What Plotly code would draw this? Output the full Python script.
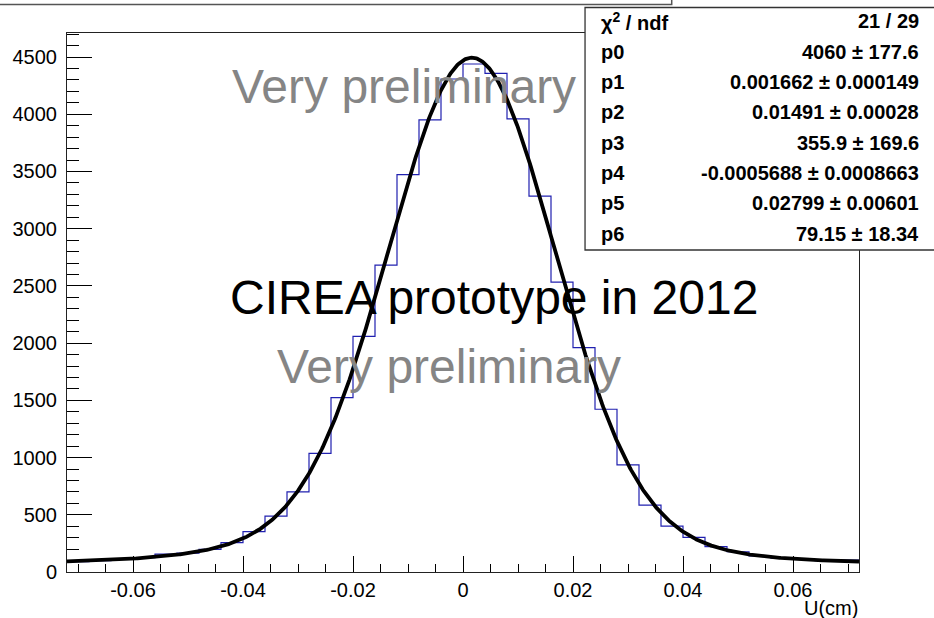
import numpy as np
import plotly.graph_objects as go

# ---- histogram of U (cm): 36 bins from -0.072 to 0.072 ----
x_min, x_max, n_bins = -0.072, 0.072, 36
counts = [
    90, 100, 110, 125, 157, 165, 198, 256, 352, 489, 701, 1036,
    1524, 2059, 2682, 3473, 3950, 4308, 4439, 4357, 3959, 3284, 2533, 1961,
    1422, 936, 585, 401, 303, 221, 177, 140, 122, 110, 100, 105,
]

# ---- fit: gaus(p0,p1,p2) + gaus(p3,p4,p5) + p6 ----
par_names = ["p0", "p1", "p2", "p3", "p4", "p5", "p6"]
par_values = [4060, 0.001662, 0.01491, 355.9, -0.0005688, 0.02799, 79.15]
par_errors = [177.6, 0.000149, 0.00028, 169.6, 0.0008663, 0.00601, 18.34]
chi2, ndf = 21, 29

# ---- axis ticks ----
y_ticks = [0, 500, 1000, 1500, 2000, 2500, 3000, 3500, 4000, 4500]
x_tickvals = [-0.06, -0.04, -0.02, 0, 0.02, 0.04, 0.06]
x_ticktext = ["-0.06", "-0.04", "-0.02", "0", "0.02", "0.04", "0.06"]
x_title = "U(cm)"
y_max = 4710

# ---- canvas geometry (pixels) ----
W, H = 934, 618
L, R, T, B = 64, 859, 33, 572


def px(x):
    return (x - L) / (R - L)


def py(y):
    return (B - y) / (B - T)


FONT = "Liberation Sans, Arial, sans-serif"

edges = np.linspace(x_min, x_max, n_bins + 1)
step_y = counts + [counts[-1]]

p0, p1, p2, p3, p4, p5, p6 = par_values
xf = np.linspace(x_min, x_max, 800)
yf = (p0 * np.exp(-0.5 * ((xf - p1) / p2) ** 2)
      + p3 * np.exp(-0.5 * ((xf - p4) / p5) ** 2) + p6)

fig = go.Figure()
fig.add_trace(go.Scatter(
    x=edges, y=step_y, mode="lines", line_shape="hv",
    line=dict(color="#2020b0", width=1.2), hoverinfo="skip",
))
fig.add_trace(go.Scatter(
    x=xf, y=yf, mode="lines",
    line=dict(color="black", width=3.8), hoverinfo="skip",
))

fig.update_layout(
    width=W, height=H, autosize=False,
    margin=dict(l=L, r=W - R, t=T, b=H - B, pad=0),
    paper_bgcolor="white", plot_bgcolor="white",
    showlegend=False,
    font=dict(family=FONT, size=20, color="black"),
)

fig.update_xaxes(
    range=[x_min, x_max], showgrid=False, zeroline=False,
    showline=True, linecolor="#222", linewidth=1, mirror=True,
    ticks="inside", ticklen=16, tickcolor="black", tickwidth=1,
    tickvals=x_tickvals, ticktext=x_ticktext,
    tickfont=dict(family=FONT, size=20, color="black"),
    ticklabelstandoff=0,
    minor=dict(ticks="inside", ticklen=8, dtick=0.005, tick0=0,
               tickcolor="black", tickwidth=1, showgrid=False),
)
fig.update_yaxes(
    range=[0, y_max], showgrid=False, zeroline=False,
    showline=True, linecolor="#222", linewidth=1, mirror=True,
    ticks="inside", ticklen=25, tickcolor="black", tickwidth=1,
    tickvals=y_ticks,
    tickfont=dict(family=FONT, size=20, color="black"),
    ticklabelstandoff=5,
    minor=dict(ticks="inside", ticklen=12, dtick=100, tick0=0,
               tickcolor="black", tickwidth=1, showgrid=False),
)

shapes = [
    # title pave (mostly off-canvas)
    dict(type="rect", xref="paper", yref="paper",
         x0=px(-10), x1=px(671), y0=py(-10), y1=py(4.5),
         line=dict(color="#555", width=1.5), fillcolor="white", layer="above"),
    # stats box
    dict(type="rect", xref="paper", yref="paper",
         x0=px(584), x1=px(945), y0=py(7.5), y1=py(250),
         line=dict(color="#333", width=1.3), fillcolor="white", layer="above"),
]

annotations = []
# big labels
for text, x0, ymid, color in [
    ("Very preliminary", 228, 87, "#858585"),
    ("CIREA prototype in 2012", 226, 297.5, "black"),
    ("Very preliminary", 273, 366, "#858585"),
]:
    annotations.append(dict(
        text=text, xref="paper", yref="paper", x=px(x0), y=py(ymid),
        xanchor="left", yanchor="middle", showarrow=False,
        font=dict(family=FONT, size=48, color=color),
    ))

# stats box rows
row_labels = ["χ<sup>2</sup> / ndf"] + par_names
row_values = [f"{chi2} / {ndf}"] + [
    f"{v:g} ± {e:g}" for v, e in zip(par_values, par_errors)
]
row_y0, row_dy = 21.5, 30.3
for i, (lab, val) in enumerate(zip(row_labels, row_values)):
    yc = row_y0 + i * row_dy
    annotations.append(dict(
        text=lab, xref="paper", yref="paper", x=px(598), y=py(yc),
        xanchor="left", yanchor="middle", showarrow=False,
        font=dict(family=FONT, size=20, color="black", weight="bold"),
    ))
    annotations.append(dict(
        text=val, xref="paper", yref="paper", x=px(921), y=py(yc),
        xanchor="right", yanchor="middle", showarrow=False,
        font=dict(family=FONT, size=20, color="black", weight="bold"),
    ))

# x-axis title
annotations.append(dict(
    text=x_title, xref="paper", yref="paper", x=px(860), y=py(608),
    xanchor="right", yanchor="middle", showarrow=False,
    font=dict(family=FONT, size=20, color="black"),
))

fig.update_layout(shapes=shapes, annotations=annotations)
fig.write_html("out.html")
